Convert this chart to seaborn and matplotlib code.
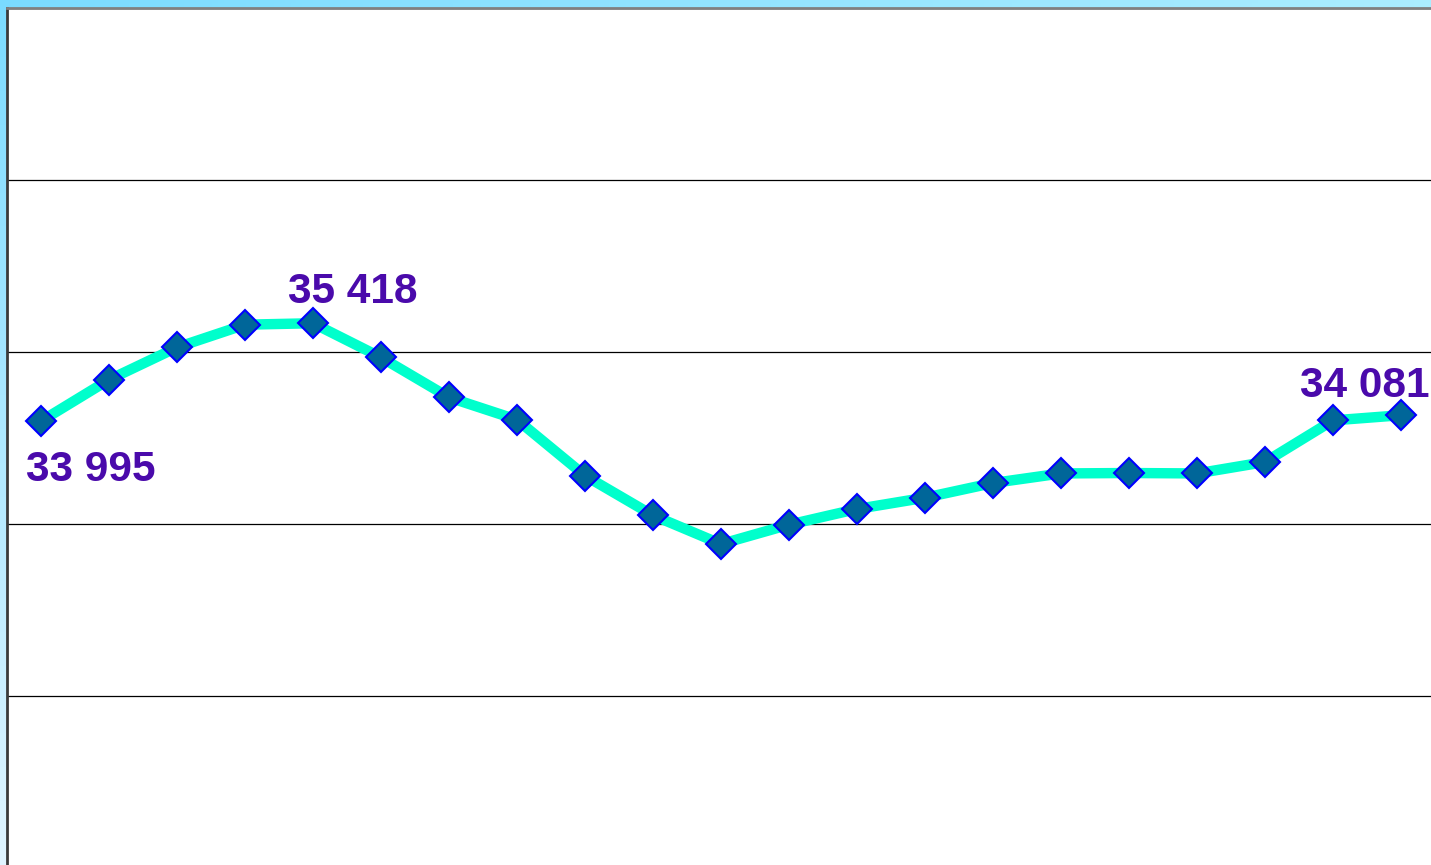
import numpy as np
import pandas as pd
import matplotlib
matplotlib.use("Agg")
import matplotlib.pyplot as plt
import seaborn as sns

# ---- data ----
periods = list(range(21))
values = [33995, 34597, 35067, 35397, 35418, 34922, 34340, 34016, 33202, 32625,
          32209, 32490, 32718, 32882, 33096, 33235, 33241, 33235, 33401, 34006, 34081]
labelled = {0: "33 995", 4: "35 418", 20: "34 081"}
y_ticks = [27500, 30000, 32500, 35000, 37500, 40000]

sns.set_theme(style="white")
plt.rcParams['font.family'] = ['Liberation Sans', 'DejaVu Sans']

W, H = 1431, 865
fig = plt.figure(figsize=(W / 100, H / 100), dpi=100)

# outer light-blue gradient background
bg = fig.add_axes([0, 0, 1, 1], zorder=-10)
gx = np.linspace(0, 1, 256)[None, :]
gy = np.linspace(0, 1, 256)[:, None]
c_tl = np.array([0.48, 0.86, 1.0])
c_tr = np.array([0.67, 0.93, 1.0])
c_bl = np.array([0.88, 0.96, 1.0])
c_br = np.array([0.93, 0.98, 1.0])
img = ((1 - gy) * (1 - gx))[..., None] * c_tl + ((1 - gy) * gx)[..., None] * c_tr \
    + (gy * (1 - gx))[..., None] * c_bl + (gy * gx)[..., None] * c_br
bg.imshow(img, aspect='auto', extent=[0, 1, 0, 1])
bg.set_axis_off()

# main plot area (extends past right and bottom edges, as in the reference)
left_px, top_px = 7, 8
width_px = 68 * 21
height_px = 1032
ax = fig.add_axes([left_px / W, (H - top_px - height_px) / H, width_px / W, height_px / H])
ax.set_facecolor('white')

df = pd.DataFrame({"period": periods, "value": values})
sns.lineplot(data=df, x="period", y="value", ax=ax, color="#00FFCC", linewidth=7.5,
             marker="D", markersize=15, markerfacecolor="#006699",
             markeredgecolor="#0000FF", markeredgewidth=1.5, zorder=5)

ax.set_xlim(-0.5, 20.5)
ax.set_ylim(25000, 40000)
ax.set_yticks(y_ticks)
ax.set_xticks([])
ax.yaxis.grid(True, color="black", linewidth=0.9)
ax.xaxis.grid(False)
ax.tick_params(left=False, bottom=False, labelleft=False, labelbottom=False)
ax.set_xlabel("")
ax.set_ylabel("")

for s in ["right", "bottom"]:
    ax.spines[s].set_visible(False)
ax.spines["top"].set_color("#808080")
ax.spines["top"].set_linewidth(2)
ax.spines["left"].set_color("#3a3a3a")
ax.spines["left"].set_linewidth(2)

offsets = {0: (-15, -49), 4: (-25, 31), 20: (-101, 29)}
for i, txt in labelled.items():
    ax.annotate(txt, (periods[i], values[i]), xytext=offsets[i], textcoords="offset pixels",
                ha="left", va="center", fontsize=30.5, fontweight="bold",
                color="#4A0AAB", zorder=10, annotation_clip=False)

fig.savefig("out.png", dpi=100)
